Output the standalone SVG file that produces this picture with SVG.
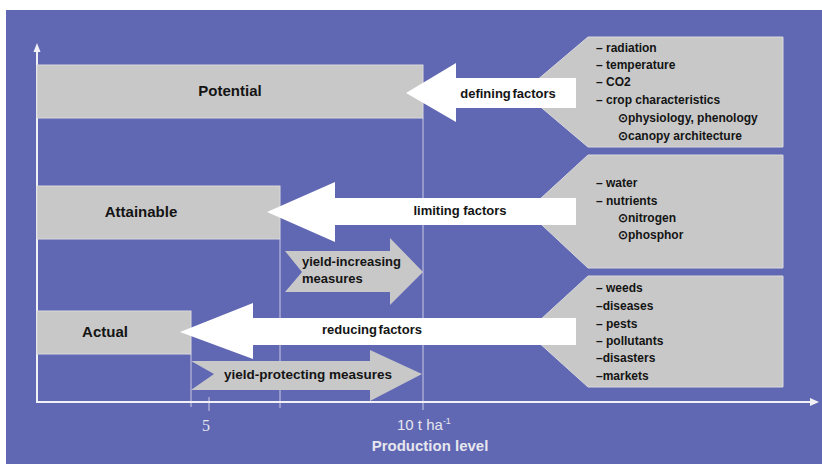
<svg xmlns="http://www.w3.org/2000/svg" width="822" height="464" viewBox="0 0 822 464">
<style>
.bg{fill:#6067b3}
.box{fill:#c8c8c8;stroke:#d9d9dc;stroke-width:1}
.warrow{fill:#ffffff}
.garrow{fill:#c8c8c8}
.guide{stroke:#c9cbe3;stroke-width:1;fill:none}
.axis{stroke:#f2f2f6;stroke-width:2;fill:none}
.lbl{font-family:"Liberation Sans",Arial,sans-serif;font-weight:bold;fill:#141414}
.big{font-size:15px}
.mid{font-size:13px}
.sm{font-size:12px}
.ax{font-family:"Liberation Sans",Arial,sans-serif;fill:#e6e6ee}
</style>
<rect x="0" y="0" width="822" height="464" fill="#ffffff"/>
<rect class="bg" x="6" y="10" width="816" height="454"/>

<g id="connectors">
  <line class="guide" x1="423" y1="118" x2="423" y2="410"/>
  <line class="guide" x1="280" y1="239" x2="280" y2="408"/>
  <line class="guide" x1="191" y1="354" x2="191" y2="407"/>
  <line class="guide" x1="209" y1="397" x2="209" y2="411"/>
  <line class="axis" x1="37" y1="403" x2="37" y2="50"/>
  <polygon points="37,43 33.5,52 40.5,52" fill="#f2f2f6"/>
  <line class="axis" x1="36" y1="402" x2="811" y2="402"/>
  <polygon points="819,402 810,398 810,406" fill="#f2f2f6"/>
</g>

<g id="panel-defining">
  <polygon class="box" points="588,37 783,37 783,147 588,147 523,92"/>
  <text class="lbl sm" x="596" y="51.5">– radiation</text>
  <text class="lbl sm" x="596" y="68.5">– temperature</text>
  <text class="lbl sm" x="596" y="86">– CO2</text>
  <text class="lbl sm" x="596" y="103.5">– crop characteristics</text>
  <text class="lbl sm" x="618" y="121.5">⊙physiology, phenology</text>
  <text class="lbl sm" x="618" y="140">⊙canopy architecture</text>
</g>

<g id="panel-limiting">
  <polygon class="box" points="588,155 783,155 783,268 588,268 527,211"/>
  <text class="lbl sm" x="596" y="187">– water</text>
  <text class="lbl sm" x="596" y="205">– nutrients</text>
  <text class="lbl sm" x="618" y="222">⊙nitrogen</text>
  <text class="lbl sm" x="618" y="239">⊙phosphor</text>
</g>

<g id="panel-reducing">
  <polygon class="box" points="588,276 783,276 783,387 588,387 527,332"/>
  <text class="lbl sm" x="596" y="292">– weeds</text>
  <text class="lbl sm" x="596" y="310">–diseases</text>
  <text class="lbl sm" x="596" y="328">– pests</text>
  <text class="lbl sm" x="596" y="345">– pollutants</text>
  <text class="lbl sm" x="596" y="362">–disasters</text>
  <text class="lbl sm" x="596" y="380">–markets</text>
</g>

<g id="potential">
  <rect class="box" x="37" y="65" width="386" height="53"/>
  <text class="lbl big" x="230" y="96" text-anchor="middle">Potential</text>
</g>

<g id="attainable">
  <rect class="box" x="37" y="186" width="243" height="53"/>
  <text class="lbl big" x="141" y="217" text-anchor="middle">Attainable</text>
</g>

<g id="actual">
  <rect class="box" x="37" y="311" width="154" height="43"/>
  <text class="lbl big" x="105" y="337" text-anchor="middle">Actual</text>
</g>

<g id="defining-factors">
  <polygon class="warrow" points="406,93 456,63 456,78 576,78 576,108 456,108 456,122"/>
  <text class="lbl mid" x="508" y="98" text-anchor="middle" word-spacing="-2">defining factors</text>
</g>

<g id="limiting-factors">
  <polygon class="warrow" points="267,212 335,182 335,198 576,198 576,225 335,225 335,242"/>
  <text class="lbl mid" x="460" y="214.5" text-anchor="middle">limiting factors</text>
</g>

<g id="reducing-factors">
  <polygon class="warrow" points="180,332 253,303 253,318 576,318 576,345 253,345 253,359"/>
  <text class="lbl mid" x="372" y="334" text-anchor="middle" word-spacing="-2">reducing factors</text>
</g>

<g id="yield-increasing">
  <polygon class="garrow" points="285,251 390,251 390,238 423,272 390,305 390,292 285,292 302,272"/>
  <text class="lbl mid" x="302" y="266">yield-increasing</text>
  <text class="lbl mid" x="302" y="283">measures</text>
</g>

<g id="yield-protecting">
  <polygon class="garrow" points="191,361 370,361 370,350 422,374 370,401 370,390 191,390 214,374"/>
  <text class="lbl" font-size="13.5" x="224" y="378.5">yield-protecting measures</text>
</g>

<g id="axis-labels">
  <text class="ax" x="206" y="431" font-family="'Liberation Serif',serif" font-size="16" text-anchor="middle" style="font-family:'Liberation Serif',serif">5</text>
  <text class="ax" x="397" y="430" font-size="15">10 t ha<tspan font-size="9" dy="-6">-1</tspan></text>
  <text class="ax" x="430" y="451" font-size="15" font-weight="bold" text-anchor="middle">Production level</text>
</g>
</svg>
